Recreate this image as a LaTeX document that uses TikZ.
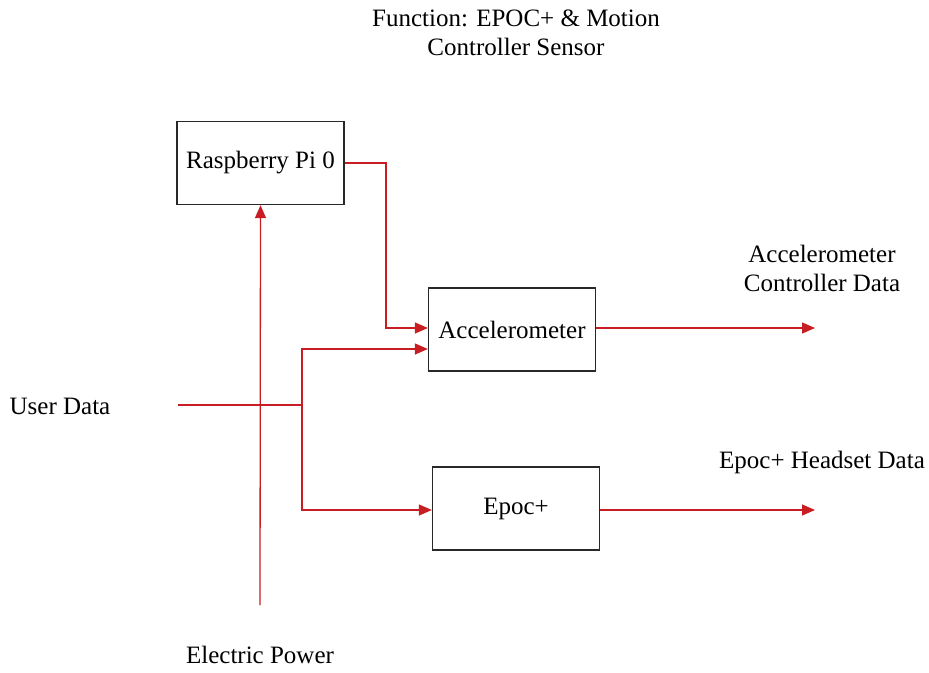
\documentclass[tikz,border=0pt]{standalone}
\usepackage{fontspec}
\setmainfont{Liberation Serif}
\usetikzlibrary{arrows.meta}
\definecolor{lred}{RGB}{200,30,35}
\definecolor{boxc}{RGB}{40,40,40}
\begin{document}
\begin{tikzpicture}[x=1pt,y=-1pt,
  box/.style={draw=boxc,line width=1.3pt,minimum width=167pt,minimum height=83pt,inner sep=0pt,font=\fontsize{25}{29}\selectfont},
  lbl/.style={font=\fontsize{25}{29}\selectfont,align=center,inner sep=0pt},
  wire/.style={draw=lred,line width=1.3pt},
  arr/.style={wire,-{Triangle[length=13pt,width=11pt]}}]
\useasboundingbox (0,0) rectangle (929,672);
\node[lbl] (title) at (516,33) {Function: EPOC+ \& Motion\\Controller Sensor};
\node[box] (pi) at (260.5,163) {Raspberry Pi 0};
\node[box] (acc) at (512,329.5) {Accelerometer};
\node[box] (epoc) at (516,508.5) {Epoc+};
\node[lbl] (power) at (260,655) {Electric Power};
\node[lbl] (user) at (60,406) {User Data};
\node[lbl] (accout) at (822,268) {Accelerometer\\Controller Data};
\node[lbl] (epocout) at (822,462) {Epoc+ Headset Data};
\coordinate (powstart) at (260,605);
\coordinate (ustart) at (178,405);
\coordinate (split) at (302,405);
\coordinate (accend) at (815,328);
\coordinate (epocend) at (815,510);
\draw[arr] (powstart) -- (pi.south);
\draw[arr] (pi.east |- 0,163) -- (386,163) -- (386,328) -- (acc.west |- 0,328);
\draw[wire] (ustart) -- (split);
\draw[arr] (split) -- (302,349) -- (acc.west |- 0,349);
\draw[arr] (split) -- (302,510) -- (epoc.west |- 0,510);
\draw[arr] (acc.east |- 0,328) -- (accend);
\draw[arr] (epoc.east |- 0,510) -- (epocend);
\end{tikzpicture}
\end{document}
